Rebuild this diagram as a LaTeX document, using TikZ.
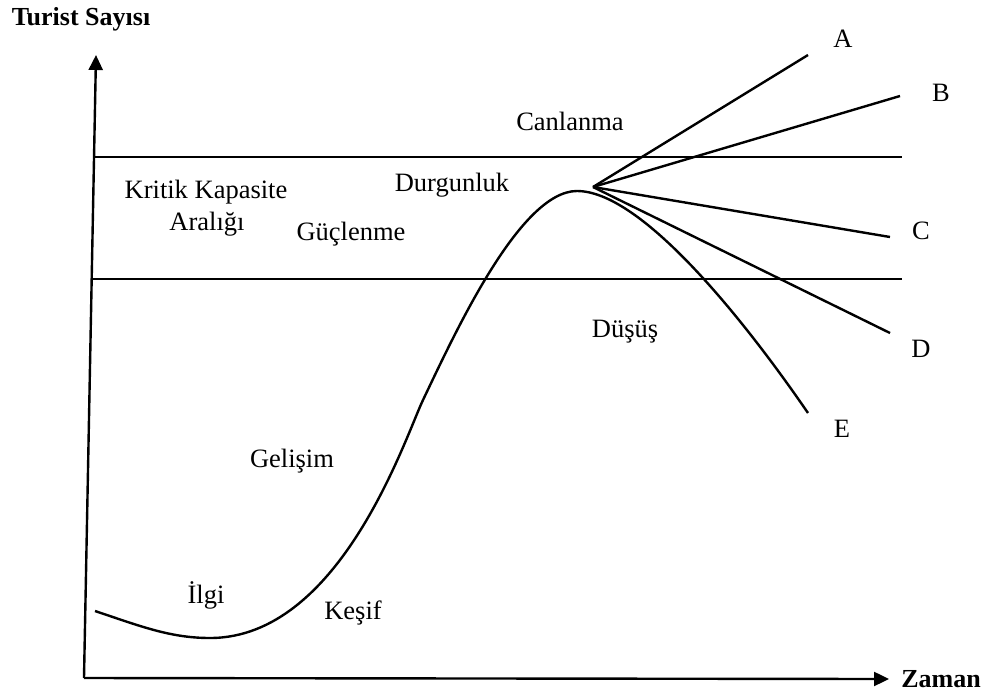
\documentclass[tikz,border=0pt]{standalone}
\usepackage{fontspec}
\setmainfont{Liberation Serif}
\usetikzlibrary{arrows.meta}
\begin{document}
\begin{tikzpicture}[x=1pt,y=-1pt,
  lbl/.style={anchor=base,inner sep=0pt,font=\fontsize{26.5}{30}\selectfont},
  blbl/.style={anchor=base,inner sep=0pt,font=\fontsize{26}{30}\selectfont\bfseries},
  ln/.style={line width=2.4pt,black},
  axis/.style={line width=2.4pt,black,-{Triangle[length=15pt,width=14pt]}}]
\useasboundingbox (0,0) rectangle (985,697);
% axes
\coordinate (O) at (84,678);
\coordinate (Ytip) at (96,55);
\coordinate (Xtip) at (889,679);
\draw[axis] (O) -- (Ytip);
\draw[axis] (O) -- (Xtip);
% capacity lines
\coordinate (u1) at (93,157); \coordinate (u2) at (902,157);
\coordinate (l1) at (93,279); \coordinate (l2) at (902,279);
\draw[ln] (u1) -- (u2);
\draw[ln] (l1) -- (l2);
% life-cycle curve
\coordinate (c0) at (95,611);
\coordinate (cmin) at (210,638);
\coordinate (cinf) at (423,400);
\coordinate (cpk) at (577,191);
\coordinate (Eend) at (808,413);
\draw[ln,line join=round] (c0) .. controls (140,626) and (170,638) .. (cmin)
  .. controls (340,638) and (405,438) .. (cinf)
  .. controls (455,333) and (520,191) .. (cpk)
  .. controls (640,191) and (740,314) .. (Eend);
% fan
\coordinate (fan) at (593,187);
\coordinate (Aend) at (808,55);
\coordinate (Bend) at (900,96);
\coordinate (Cend) at (890,237);
\coordinate (Dend) at (890,333);
\draw[ln] (fan) -- (Aend);
\draw[ln] (fan) -- (Bend);
\draw[ln] (fan) -- (Cend);
\draw[ln] (fan) -- (Dend);
% labels
\node[blbl] (ylab) at (81,25) {Turist Sayısı};
\node[blbl] (xlab) at (941,687) {Zaman};
\node[lbl] (A) at (843,47) {A};
\node[lbl] (B) at (941,101) {B};
\node[lbl] (C) at (921,239) {C};
\node[lbl] (D) at (921,357) {D};
\node[lbl] (E) at (842,437) {E};
\node[lbl] (can) at (570,130) {Canlanma};
\node[lbl] (dur) at (452,191) {Durgunluk};
\node[lbl] (kk) at (206,198) {Kritik Kapasite};
\node[lbl] (ar) at (207,230) {Aralığı};
\node[lbl] (guc) at (351,240) {Güçlenme};
\node[lbl] (dus) at (625,337) {Düşüş};
\node[lbl] (gel) at (292,467) {Gelişim};
\node[lbl] (ilg) at (206,603) {İlgi};
\node[lbl] (kes) at (353,619) {Keşif};
\end{tikzpicture}
\end{document}
